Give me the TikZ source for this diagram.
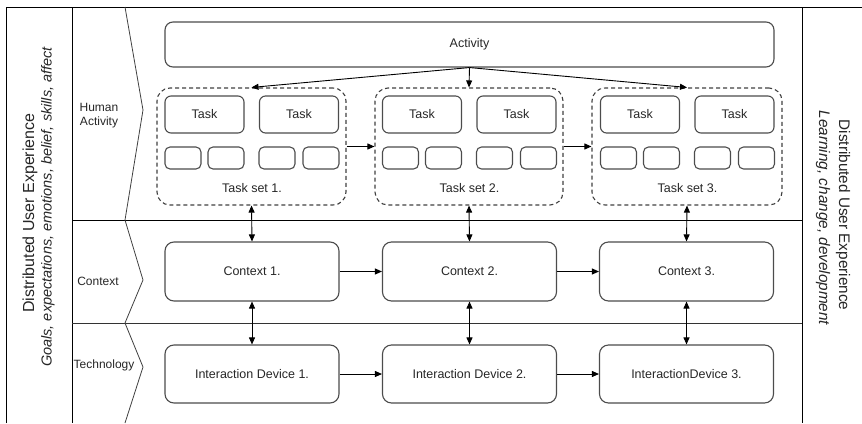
\documentclass[tikz,border=0pt]{standalone}
\usepackage{fontspec}
\setmainfont{Liberation Sans}
\usetikzlibrary{arrows.meta}
\begin{document}
\begin{tikzpicture}[x=1pt,y=-1pt,
  frame/.style={draw=black,line width=0.9pt},
  box/.style={draw=black!70,line width=1.1pt,rounded corners=8pt,inner sep=0pt,
    text=black!85,font=\fontsize{12.5}{15}\selectfont},
  taskbox/.style={box,rounded corners=6pt,minimum width=79pt,minimum height=37pt},
  smallbox/.style={box,rounded corners=5pt,minimum width=36pt,minimum height=22pt},
  setbox/.style={draw=black!75,line width=1.1pt,dash pattern=on 4pt off 3pt,
    rounded corners=13pt,minimum height=117pt,inner sep=0pt},
  ctxbox/.style={box,rounded corners=9pt,minimum width=174pt,minimum height=59pt},
  lbl/.style={text=black!85,font=\fontsize{12.5}{15}\selectfont,inner sep=0pt},
  rowlbl/.style={text=black!85,font=\fontsize{12}{14}\selectfont,inner sep=0pt,align=center},
  arr/.style={draw=black,line width=0.9pt,-{Triangle[length=7pt,width=6pt]}},
  darr/.style={draw=black,line width=0.9pt,{Triangle[length=7pt,width=6pt]}-{Triangle[length=7pt,width=6pt]}}
]
\useasboundingbox (0,0) rectangle (862,423);
% frame
\draw[frame] (6,423) -- (6,7) -- (862,7);
\draw[frame] (72,7) -- (72,423);
\draw[frame] (802,7) -- (802,423);
\draw[frame] (72,220) -- (802,220);
\draw[frame,draw=black!80] (72,323) -- (802,323);
% chevrons
\draw[draw=black!75,line width=0.8pt] (125,7) -- (143,110) -- (125,220) -- (143,280) -- (125,323) -- (143,367) -- (125,423);
% side labels
\node[rotate=90,text=black!85,font=\fontsize{16}{18}\selectfont,inner sep=0pt] (l1) at (30,213) {Distributed User Experience};
\node[rotate=90,text=black!85,font=\fontsize{14.5}{17}\selectfont\itshape,inner sep=0pt] (l2) at (48,207) {Goals, expectations, emotions, belief, skills, affect};
\node[rotate=-90,text=black!85,font=\fontsize{15.3}{18}\selectfont,inner sep=0pt] (r1) at (843,215) {Distributed User Experience};
\node[rotate=-90,text=black!85,font=\fontsize{15.3}{18}\selectfont\itshape,inner sep=0pt] (r2) at (823,218) {Learning, change, development};
% row labels
\node[rowlbl] (hum) at (99,116) {Human\\Activity};
\node[rowlbl] (ctx) at (98,281) {Context};
\node[rowlbl] (tec) at (104,365) {Technology};
% activity
\node[box,minimum width=609pt,minimum height=45pt] (act) at (469.5,44.5) {Activity};
% task sets
\foreach \i/\dx/\w in {1/0/189,2/217.5/188,3/435.5/190}{
  \node[setbox,minimum width=\w pt] (ts\i) at (251.5+\dx,146.5) {};
  \node[taskbox] (t\i a) at (204.5+\dx,114.5) {Task};
  \node[taskbox] (t\i b) at (299+\dx,114.5) {Task};
  \node[smallbox] (s\i a) at (183+\dx,158) {};
  \node[smallbox] (s\i b) at (226+\dx,158) {};
  \node[smallbox] (s\i c) at (277+\dx,158) {};
  \node[smallbox] (s\i d) at (321+\dx,158) {};
  \node[lbl] (tl\i) at (252+\dx,188) {Task set \i.};
}
% contexts and devices
\node[ctxbox] (c1) at (252,271.5) {Context 1.};
\node[ctxbox] (c2) at (469.5,271.5) {Context 2.};
\node[ctxbox] (c3) at (686.5,271.5) {Context 3.};
\node[ctxbox,minimum height=58pt] (d1) at (252,374) {Interaction Device 1.};
\node[ctxbox,minimum height=58pt] (d2) at (469.5,374) {Interaction Device 2.};
\node[ctxbox,minimum height=58pt] (d3) at (686.5,374) {InteractionDevice 3.};
% connectors
\coordinate (as) at (act.south);
\draw[arr] (as) -- (ts1.north);
\draw[arr] (as) -- (ts2.north);
\draw[arr] (as) -- (ts3.north);
\draw[arr] (ts1.east) -- (ts2.west);
\draw[arr] (ts2.east) -- (ts3.west);
\foreach \i in {1,2,3}{
  \draw[darr] (ts\i.south) -- (c\i.north);
  \draw[darr] (c\i.south) -- (d\i.north);
}
\draw[arr] (c1) -- (c2);
\draw[arr] (c2) -- (c3);
\draw[arr] (d1) -- (d2);
\draw[arr] (d2) -- (d3);
\end{tikzpicture}
\end{document}
